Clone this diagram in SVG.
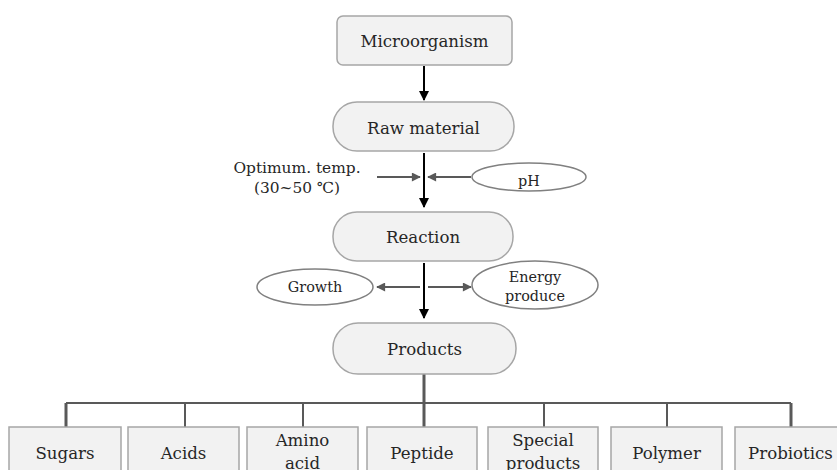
<svg xmlns="http://www.w3.org/2000/svg" width="837" height="470" viewBox="0 0 837 470">
<defs>
<style>
.box{fill:#f2f2f2;stroke:#a6a6a6;stroke-width:1.5}
.ell{fill:#ffffff;stroke:#808080;stroke-width:1.5}
.t{font-family:"DejaVu Serif","Liberation Serif",serif;fill:#262626;text-anchor:middle}
.big{font-size:16.6px}
.sm{font-size:14.4px}
.mid{font-size:15.4px}
.ka{stroke:#000;stroke-width:2;fill:none}
.ga{stroke:#595959;stroke-width:2;fill:none}
.tree{stroke:#595959;stroke-width:2;fill:none}
.thick{stroke-width:3}
</style>
<marker id="ak" viewBox="0 0 10 10" refX="9" refY="5" markerWidth="5" markerHeight="5" orient="auto" markerUnits="strokeWidth"><path d="M0,0 L10,5 L0,10 z" fill="#000"/></marker>
<marker id="ag" viewBox="0 0 10 10" refX="9" refY="5" markerWidth="5" markerHeight="4.5" orient="auto" markerUnits="strokeWidth"><path d="M0,0 L10,5 L0,10 z" fill="#595959"/></marker>
</defs>
<rect width="837" height="470" fill="#ffffff"/>
<g id="connectors">
<line class="ka" x1="424" y1="66" x2="424" y2="100" marker-end="url(#ak)"/>
<line class="ka" x1="424" y1="153" x2="424" y2="207" marker-end="url(#ak)"/>
<line class="ga" x1="377" y1="177" x2="420" y2="177" marker-end="url(#ag)"/>
<line class="ga" x1="471" y1="177" x2="428" y2="177" marker-end="url(#ag)"/>
<line class="ka" x1="424" y1="263" x2="424" y2="318" marker-end="url(#ak)"/>
<line class="ga" x1="420" y1="287" x2="377" y2="287" marker-end="url(#ag)"/>
<line class="ga" x1="428" y1="287" x2="471" y2="287" marker-end="url(#ag)"/>
<line class="tree thick" x1="424" y1="374" x2="424" y2="403"/>
<line class="tree" x1="66" y1="403" x2="791" y2="403"/>
<line class="tree thick" x1="66" y1="403" x2="66" y2="427"/>
<line class="tree" x1="185" y1="403" x2="185" y2="427"/>
<line class="tree" x1="303" y1="403" x2="303" y2="427"/>
<line class="tree thick" x1="424" y1="403" x2="424" y2="427"/>
<line class="tree" x1="544" y1="403" x2="544" y2="427"/>
<line class="tree" x1="667" y1="403" x2="667" y2="427"/>
<line class="tree thick" x1="791" y1="403" x2="791" y2="427"/>
</g>
<g id="microorganism"><rect class="box" x="337" y="16" width="175" height="49" rx="6"/><text class="t big" x="424.5" y="47">Microorganism</text></g>
<g id="raw-material"><rect class="box" x="333" y="102" width="181" height="49" rx="24"/><text class="t big" x="423.5" y="134">Raw material</text></g>
<g id="optimum-temp"><text class="t mid" x="297" y="173">Optimum. temp.</text><text class="t mid" x="297" y="193">(30~50 ℃)</text></g>
<g id="ph"><ellipse class="ell" cx="529" cy="177" rx="57" ry="14"/><text class="t sm" x="529" y="186">pH</text></g>
<g id="reaction"><rect class="box" x="333" y="212" width="180" height="49" rx="24"/><text class="t big" x="423" y="243">Reaction</text></g>
<g id="growth"><ellipse class="ell" cx="315" cy="287" rx="58" ry="18"/><text class="t sm" x="315" y="292">Growth</text></g>
<g id="energy-produce"><ellipse class="ell" cx="535" cy="285" rx="63" ry="24"/><text class="t sm" x="535" y="282">Energy</text><text class="t sm" x="535" y="301">produce</text></g>
<g id="products"><rect class="box" x="333" y="323" width="183" height="51" rx="25"/><text class="t big" x="424.5" y="355">Products</text></g>
<g id="sugars"><rect class="box" x="9" y="427" width="112" height="60"/><text class="t big" x="65" y="459">Sugars</text></g>
<g id="acids"><rect class="box" x="128" y="427" width="111" height="60"/><text class="t big" x="183.5" y="459">Acids</text></g>
<g id="amino-acid"><rect class="box" x="247" y="427" width="111" height="60"/><text class="t big" x="302.5" y="446">Amino</text><text class="t big" x="302.5" y="469">acid</text></g>
<g id="peptide"><rect class="box" x="367" y="427" width="110" height="60"/><text class="t big" x="422" y="459">Peptide</text></g>
<g id="special-products"><rect class="box" x="488" y="427" width="110" height="60"/><text class="t big" x="543" y="446">Special</text><text class="t big" x="543" y="469">products</text></g>
<g id="polymer"><rect class="box" x="611" y="427" width="111" height="60"/><text class="t big" x="666.5" y="459">Polymer</text></g>
<g id="probiotics"><rect class="box" x="735" y="427" width="112" height="60"/><text class="t big" x="790.5" y="459">Probiotics</text></g>
</svg>
